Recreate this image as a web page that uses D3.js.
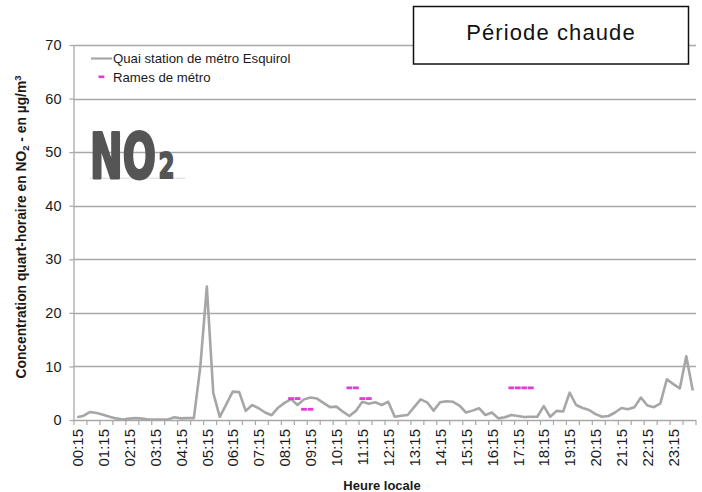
<!DOCTYPE html>
<html><head><meta charset="utf-8">
<script src="https://cdn.jsdelivr.net/npm/d3@7"></script>
<style>
html,body{margin:0;padding:0;background:#fff;}
svg{display:block;font-family:"Liberation Sans",Arial,sans-serif;}
</style></head>
<body>
<svg id="chart" width="702" height="492"></svg>
<script>
const categories = ["00:15","00:30","00:45","01:00","01:15","01:30","01:45","02:00","02:15","02:30","02:45","03:00","03:15","03:30","03:45","04:00","04:15","04:30","04:45","05:00","05:15","05:30","05:45","06:00","06:15","06:30","06:45","07:00","07:15","07:30","07:45","08:00","08:15","08:30","08:45","09:00","09:15","09:30","09:45","10:00","10:15","10:30","10:45","11:00","11:15","11:30","11:45","12:00","12:15","12:30","12:45","13:00","13:15","13:30","13:45","14:00","14:15","14:30","14:45","15:00","15:15","15:30","15:45","16:00","16:15","16:30","16:45","17:00","17:15","17:30","17:45","18:00","18:15","18:30","18:45","19:00","19:15","19:30","19:45","20:00","20:15","20:30","20:45","21:00","21:15","21:30","21:45","22:00","22:15","22:30","22:45","23:00","23:15","23:30","23:45","00:00"];
const xTickLabels = ["00:15","01:15","02:15","03:15","04:15","05:15","06:15","07:15","08:15","09:15","10:15","11:15","12:15","13:15","14:15","15:15","16:15","17:15","18:15","19:15","20:15","21:15","22:15","23:15"];
const quaiValues = [0.5,0.8,1.5,1.3,1.0,0.6,0.3,0.1,0.25,0.35,
  0.25,0.1,0.1,0.1,0.1,0.5,0.3,0.35,0.35,10,
  24.9,5.0,0.6,2.9,5.3,5.2,1.7,2.8,2.2,1.4,
  0.9,2.3,3.2,3.9,2.8,3.85,4.2,4.0,3.2,2.4,
  2.5,1.55,0.75,1.7,3.4,3.05,3.3,2.8,3.4,0.6,
  0.8,0.93,2.4,3.85,3.3,1.75,3.3,3.5,3.4,2.7,
  1.4,1.75,2.2,0.93,1.4,0.3,0.5,0.93,0.75,0.56,
  0.6,0.6,2.6,0.6,1.7,1.6,5.1,2.8,2.24,1.87,
  1.1,0.6,0.75,1.4,2.24,2.0,2.4,4.2,2.7,2.4,
  3.1,7.6,6.7,5.9,11.9,5.5];
const ramesTimes = ["08:30","08:45","09:00","09:15","10:45","11:00","11:15","11:30","17:00","17:15","17:30","17:45"];
const ramesValues = [4,4,2,2,6,6,4,4,6,6,6,6];
const yTicks = [0,10,20,30,40,50,60,70];
const seriesNames = ["Quai station de métro Esquirol","Rames de métro"];

(function () {
const svg = d3.select("#chart");
const pLeft = 74, pRight = 696, pTop = 45, pBottom = 420;
const x = d3.scaleBand().domain(categories).range([pLeft, pRight]).padding(0);
const bw = x.bandwidth();
const cx = c => x(c) + bw / 2;
const y = d3.scaleLinear().domain([0, 70]).range([pBottom, pTop]);

const gridCol = "#a9a9a9";
// gridlines
svg.append("g").selectAll("line").data(yTicks.filter(d => d > 0)).join("line")
  .attr("x1", pLeft - 0.5).attr("x2", pRight).attr("y1", d => Math.round(y(d)) + 0.5).attr("y2", d => Math.round(y(d)) + 0.5)
  .attr("stroke", gridCol).attr("stroke-width", 1.3);

// y axis
const yAxis = svg.append("g").attr("transform", `translate(${pLeft - 0.5},0)`)
  .call(d3.axisLeft(y).tickValues(yTicks).tickSize(4).tickSizeOuter(0).tickPadding(8));
yAxis.select(".domain").attr("stroke", gridCol).attr("stroke-width", 1.3);
yAxis.selectAll(".tick line").attr("stroke", gridCol).attr("stroke-width", 1.3);
yAxis.selectAll(".tick text").attr("font-size", 14.5).attr("fill", "#1a1a1a")
  .attr("font-family", "'Liberation Sans',Arial,sans-serif");

// x axis line
svg.append("line").attr("x1", pLeft - 0.5).attr("x2", pRight).attr("y1", pBottom + 0.5).attr("y2", pBottom + 0.5)
  .attr("stroke", gridCol).attr("stroke-width", 1.3);
// x tick marks every 2 categories at boundaries
const n = categories.length;
const tickIdx = d3.range(0, n + 1, 2);
const bx = i => (i < n ? x(categories[i]) : x(categories[n - 1]) + bw);
svg.append("g").selectAll("line").data(tickIdx).join("line")
  .attr("x1", bx).attr("x2", bx)
  .attr("y1", pBottom).attr("y2", pBottom + 5)
  .attr("stroke", gridCol).attr("stroke-width", 1.2);
// x tick labels
svg.append("g").selectAll("text").data(xTickLabels).join("text")
  .attr("transform", d => `translate(${cx(d) + 0.5},${pBottom + 9}) rotate(-90)`)
  .attr("text-anchor", "end").attr("dy", "0.35em")
  .attr("font-size", 15).attr("fill", "#1a1a1a").text(d => d);

// NO2 logo (scaled horizontally to a condensed look)
const logo = svg.append("g");
logo.append("rect").attr("x", 90).attr("y", 177.5).attr("width", 95).attr("height", 1.5).attr("fill", "#e6e6e6");
logo.append("text").attr("transform", "translate(90,177.5) scale(0.63,1)").attr("font-weight", "bold")
  .attr("font-family", "'DejaVu Sans',Arial,sans-serif").attr("font-size", 62)
  .attr("fill", "#555").attr("stroke", "#555").attr("stroke-width", 3).attr("stroke-linejoin", "round")
  .text("NO");
logo.append("text").attr("transform", "translate(158.5,177.5) scale(0.64,1)").attr("font-weight", "bold")
  .attr("font-family", "'DejaVu Sans',Arial,sans-serif").attr("font-size", 36)
  .attr("fill", "#555").attr("stroke", "#555").attr("stroke-width", 2).attr("stroke-linejoin", "round")
  .text("2");

// line series
const line = d3.line().x((d, i) => cx(categories[i])).y(d => y(d));
svg.append("path").datum(quaiValues).attr("d", line)
  .attr("fill", "none").attr("stroke", "#a6a6a6").attr("stroke-width", 2.6).attr("stroke-linejoin", "round");

// rames markers
const pink = "#e23cd6";
svg.append("g").selectAll("rect").data(ramesTimes).join("rect")
  .attr("x", d => cx(d) - 2.9).attr("width", 5.8)
  .attr("y", (d, i) => y(ramesValues[i]) - 1.4).attr("height", 2.8)
  .attr("fill", pink);

// legend
const lg = svg.append("g");
lg.append("line").attr("x1", 91).attr("x2", 112).attr("y1", 58.5).attr("y2", 58.5)
  .attr("stroke", "#a6a6a6").attr("stroke-width", 2.2);
lg.append("text").attr("x", 113).attr("y", 58.5).attr("dy", "0.35em").attr("font-size", 13.2)
  .attr("fill", "#1a1a1a").text(seriesNames[0]);
lg.append("rect").attr("x", 98.5).attr("y", 75.5).attr("width", 5.8).attr("height", 2.6).attr("fill", pink);
lg.append("text").attr("x", 113).attr("y", 77).attr("dy", "0.35em").attr("font-size", 13.2)
  .attr("fill", "#1a1a1a").text(seriesNames[1]);

// title box
svg.append("rect").attr("x", 413.5).attr("y", 6.5).attr("width", 275).attr("height", 57.5)
  .attr("fill", "#fff").attr("stroke", "#111").attr("stroke-width", 1.5);
svg.append("text").attr("x", 551).attr("y", 40).attr("text-anchor", "middle")
  .attr("font-size", 22).attr("letter-spacing", 1.1).attr("fill", "#111").text("Période chaude");

// axis titles
svg.append("text").attr("x", 382).attr("y", 489.5).attr("text-anchor", "middle")
  .attr("font-size", 13).attr("font-weight", "bold").attr("fill", "#1a1a1a").text("Heure locale");
const yt = svg.append("text").attr("transform", "translate(26,227) rotate(-90)")
  .attr("text-anchor", "middle").attr("font-size", 13.8).attr("font-weight", "bold").attr("fill", "#1a1a1a");
yt.append("tspan").text("Concentration quart-horaire en NO");
yt.append("tspan").attr("font-size", 9.5).attr("dy", 3).text("2");
yt.append("tspan").attr("dy", -3).text(" - en µg/m");
yt.append("tspan").attr("font-size", 9.5).attr("dy", -5).text("3");
})();
</script>
</body></html>
